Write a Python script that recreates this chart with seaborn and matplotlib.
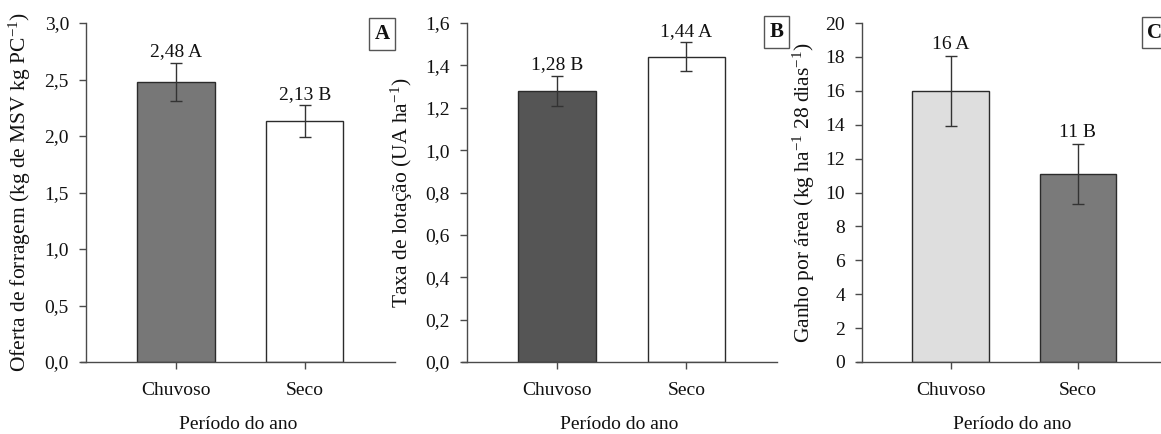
import matplotlib
matplotlib.use("Agg")
import matplotlib.pyplot as plt
import seaborn as sns
import pandas as pd
from matplotlib.ticker import FuncFormatter, MultipleLocator

sns.set_theme(style="white")
plt.rcParams['font.family'] = ['Liberation Serif', 'DejaVu Serif']
plt.rcParams['mathtext.fontset'] = 'custom'
plt.rcParams['mathtext.rm'] = 'Liberation Serif'
plt.rcParams['mathtext.it'] = 'Liberation Serif:italic'
plt.rcParams['mathtext.bf'] = 'Liberation Serif:bold'

# ---- data ----
categories = ["Chuvoso", "Seco"]

oferta = [2.48, 2.13]
oferta_err = [0.17, 0.14]
oferta_text = ["2,48 A", "2,13 B"]

taxa = [1.28, 1.44]
taxa_err = [0.072, 0.068]
taxa_text = ["1,28 B", "1,44 A"]

ganho = [16.0, 11.1]
ganho_err = [2.05, 1.76]
ganho_text = ["16 A", "11 B"]

W, H = 1161, 434
fig = plt.figure(figsize=(W / 100, H / 100), dpi=100)
fig.patch.set_facecolor("white")

FS = 14
FS_Y = 15.5
spine_c = "#4a4a4a"


def px_axes(left, right, top=23, bottom=362):
    return fig.add_axes([left / W, (H - bottom) / H, (right - left) / W, (bottom - top) / H])


panels = [
    dict(vals=oferta, errs=oferta_err, texts=oferta_text, colors=["#777777", "#ffffff"],
         left=81, right=395, ylim=(0, 3.0), step=0.5, fmt="{:.1f}",
         ylabel=r"Oferta de forragem (kg de MSV kg PC$^{-1}$)", ylx=-0.153,
         tag="A", tagx=382, tagy=34),
    dict(vals=taxa, errs=taxa_err, texts=taxa_text, colors=["#555555", "#ffffff"],
         left=462, right=777, ylim=(0, 1.6), step=0.2, fmt="{:.1f}",
         ylabel=r"Taxa de lotação (UA ha$^{-1}$)", ylx=-0.149,
         tag="B", tagx=776.5, tagy=32),
    dict(vals=ganho, errs=ganho_err, texts=ganho_text, colors=["#dedede", "#7a7a7a"],
         left=857, right=1167, ylim=(0, 20), step=2, fmt="{:.0f}",
         ylabel=r"Ganho por área (kg ha$^{-1}$ 28 dias$^{-1}$)", ylx=-0.129,
         tag="C", tagx=1155, tagy=32.5),
]

for p in panels:
    ax = px_axes(p["left"], p["right"])
    df = pd.DataFrame({"Período": categories, "valor": p["vals"]})
    sns.barplot(data=df, x="Período", y="valor", hue="Período", palette=p["colors"],
                legend=False, width=0.6, edgecolor="#2b2b2b", linewidth=1.0,
                errorbar=None, ax=ax)
    ax.errorbar(x=list(range(len(categories))), y=p["vals"], yerr=p["errs"], fmt="none",
                ecolor="#333333", elinewidth=1.0, capsize=4, capthick=1.0, zorder=5)
    for i, (v, e, t) in enumerate(zip(p["vals"], p["errs"], p["texts"])):
        ax.annotate(t, xy=(i, v + e), xytext=(0, 2), textcoords="offset points",
                    ha="center", va="bottom", fontsize=FS, color="#111111")
    ax.set_xlim(-0.736, 1.70)
    ax.set_ylim(*p["ylim"])
    ax.yaxis.set_major_locator(MultipleLocator(p["step"]))
    f = p["fmt"]
    ax.yaxis.set_major_formatter(FuncFormatter(lambda y, pos, f=f: f.format(y).replace(".", ",")))
    for s in ["top", "right"]:
        ax.spines[s].set_visible(False)
    ax.spines["left"].set_position(("data", -0.70))
    for s in ["left", "bottom"]:
        ax.spines[s].set_color(spine_c)
        ax.spines[s].set_linewidth(1.0)
    ax.tick_params(axis="both", which="major", direction="out", length=5, width=1.0,
                   color=spine_c, labelsize=FS, labelcolor="#111111",
                   left=True, bottom=True)
    ax.tick_params(axis="x", pad=9.5)
    ax.tick_params(axis="y", pad=7)
    ax.set_xlabel("Período do ano", fontsize=FS, color="#111111", labelpad=12)
    ax.set_ylabel(p["ylabel"], fontsize=FS_Y, color="#111111")
    ax.yaxis.set_label_coords(p["ylx"], 0.5)
    ax.set_facecolor("white")
    ax.grid(False)
    # panel tag box
    fig.text(p["tagx"] / W, (H - p["tagy"]) / H, p["tag"], fontsize=15, fontweight="bold",
             ha="center", va="center", color="#111111",
             bbox=dict(boxstyle="square,pad=0.28", facecolor="white", edgecolor="#555555",
                       linewidth=1.0))

fig.savefig("out.png", dpi=100, facecolor="white")
